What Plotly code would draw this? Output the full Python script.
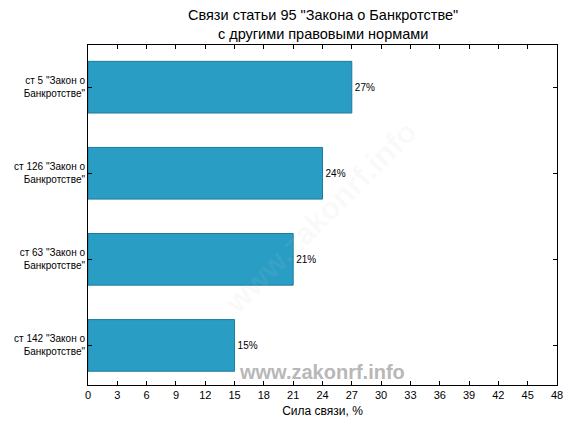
import plotly.graph_objects as go

categories = ['ст 5 "Закон о<br>Банкротстве"', 'ст 126 "Закон о<br>Банкротстве"',
              'ст 63 "Закон о<br>Банкротстве"', 'ст 142 "Закон о<br>Банкротстве"']
values = [27, 24, 21, 15]
value_labels = ["27%", "24%", "21%", "15%"]
x_ticks = list(range(0, 49, 3))

pos = list(range(len(categories)))

fig = go.Figure()
fig.add_trace(go.Bar(
    x=values, y=pos, orientation="h", width=0.6,
    marker=dict(color="#2a9dc4", line=dict(color="#1b7d9c", width=1)),
    text=value_labels, textposition="outside",
    textfont=dict(size=10, color="#000000", family="Liberation Sans, Arial"),
    cliponaxis=False, hoverinfo="skip",
))

fig.update_layout(
    width=568, height=424,
    margin=dict(l=80, r=19, t=37, b=47, autoexpand=False),
    paper_bgcolor="white", plot_bgcolor="white",
    font=dict(family="Liberation Sans, Arial", color="#000000"),
    showlegend=False,
    bargap=0.4,
)
fig.add_annotation(text="Связи статьи 95 \"Закона о Банкротстве\"<br>с другими правовыми нормами",
                   xref="paper", yref="paper", x=0.5, y=1.0, yshift=1,
                   xanchor="center", yanchor="bottom", showarrow=False,
                   font=dict(size=14.5, color="#000000"))
fig.update_xaxes(
    range=[0, 48], tickvals=x_ticks, ticktext=[str(t) for t in x_ticks],
    ticks="inside", ticklen=4, tickcolor="black", mirror="ticks",
    showline=True, linecolor="black", linewidth=1, showgrid=False, zeroline=False,
    tickfont=dict(size=11), automargin=False,
    title=dict(text="Сила связи, %", font=dict(size=12), standoff=6),
)
fig.update_yaxes(
    range=[3.46, -0.49], tickvals=pos, ticktext=categories,
    ticks="inside", ticklen=4, tickcolor="black", mirror="ticks",
    showline=True, linecolor="black", linewidth=1, showgrid=False, zeroline=False,
    tickfont=dict(size=10), automargin=False,
)

fig.add_annotation(text="<b>www.zakonrf.info</b>", xref="paper", yref="paper",
                   x=0.499, y=0.038, xanchor="center", yanchor="middle",
                   showarrow=False,
                   font=dict(size=20, color="#b8b8b8", family="Liberation Sans, Arial"))
fig.add_annotation(text="<b>www.zakonrf.info</b>", xref="paper", yref="paper",
                   x=0.495, y=0.494, xanchor="center", yanchor="middle",
                   showarrow=False, textangle=-45,
                   font=dict(size=31, color="rgba(200,200,200,0.09)", family="Liberation Sans, Arial"))

fig.write_html("out.html")
